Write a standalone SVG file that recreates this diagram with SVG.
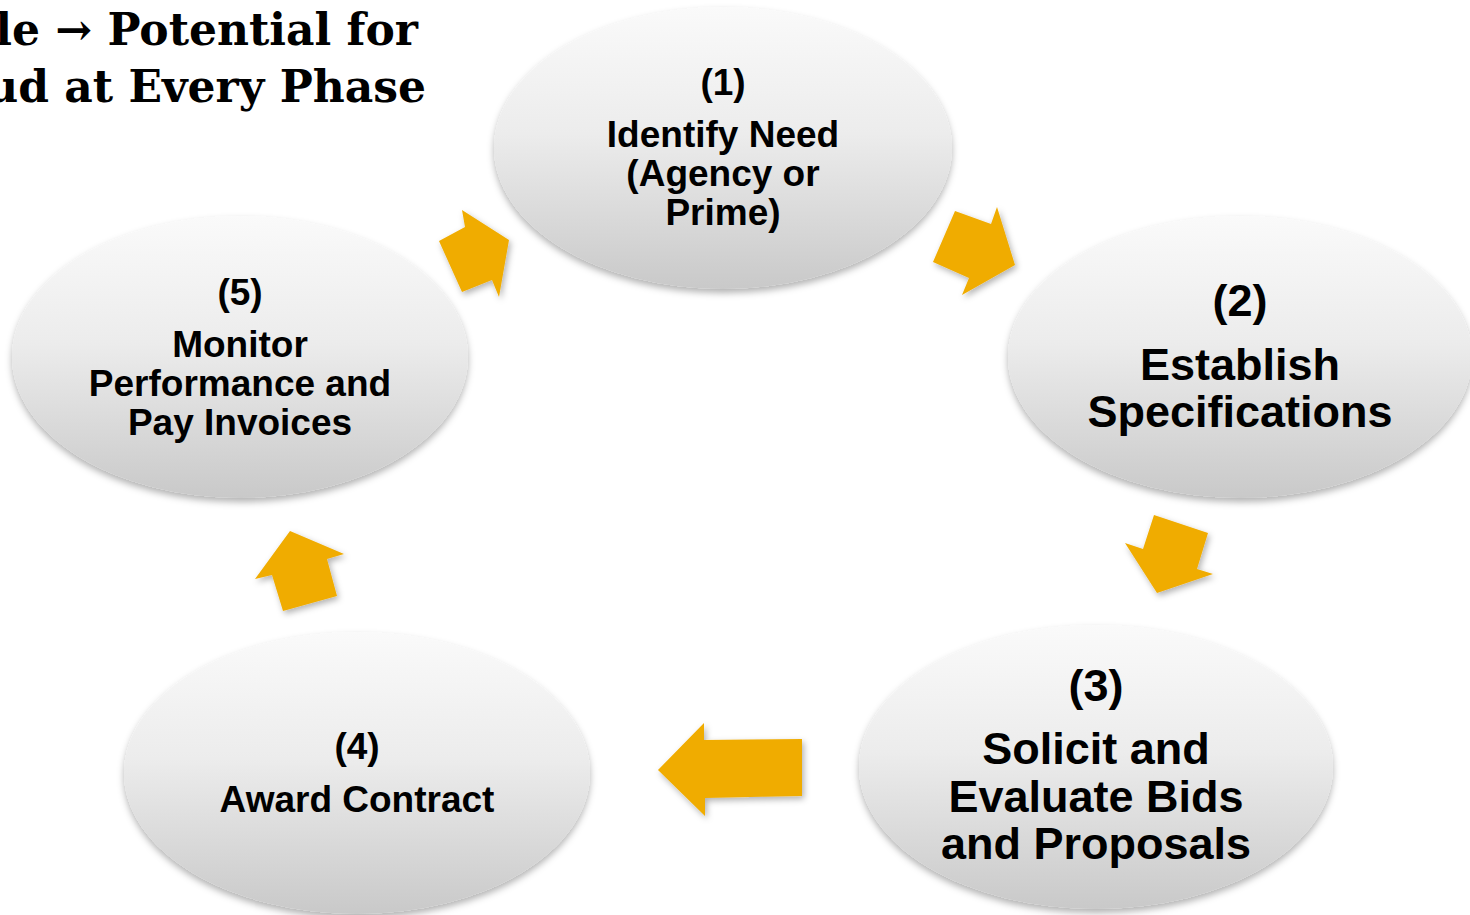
<svg xmlns="http://www.w3.org/2000/svg" width="1470" height="915" viewBox="0 0 1470 915">
  <style>
    .oval { fill: url(#ovalFill); filter: url(#ovalShadow); }
    .lbl { font-family: "Liberation Sans", Arial, sans-serif; font-weight: bold; fill: #000; text-anchor: middle; }
    .s37 { font-size: 37px; }
    .s45 { font-size: 45px; }
    .title { font-family: "DejaVu Serif", Georgia, serif; font-weight: bold; font-size: 44px; fill: #000; text-anchor: end; }
    .flow { fill: #F0AC00; filter: url(#arrowShadow); }
  </style>
  <defs>
    <linearGradient id="ovalFill" x1="0" y1="0" x2="0" y2="1">
      <stop offset="0" stop-color="#fafafa"/>
      <stop offset="0.45" stop-color="#ececec"/>
      <stop offset="1" stop-color="#c9c9c9"/>
    </linearGradient>
    <filter id="ovalShadow" x="-10%" y="-10%" width="120%" height="125%">
      <feDropShadow dx="0" dy="4" stdDeviation="3.5" flood-color="#000" flood-opacity="0.3"/>
    </filter>
    <filter id="arrowShadow" x="-20%" y="-20%" width="150%" height="150%">
      <feDropShadow dx="2" dy="3" stdDeviation="3" flood-color="#000" flood-opacity="0.3"/>
    </filter>
  </defs>

  <rect width="1470" height="915" fill="#ffffff"/>

  <!-- title, running off the left edge -->
  <g id="title">
    <text class="title" x="418" y="45">le → Potential for</text>
    <text class="title" x="426" y="102">ud at Every Phase</text>
  </g>

  <!-- cycle arrows -->
  <g id="connectors">
    <polygon class="flow" points="955,211 991,224 997,207 1015,265 962,295 969,278 933,262"/>
    <polygon class="flow" points="1154,515 1208,533 1197,569 1213,574 1157,593 1125,543 1143,549"/>
    <polygon class="flow" points="802,739 802,796 705,798 705,816 658,770 704,723 704,740"/>
    <polygon class="flow" points="283,611 272,575 255,579 290,531 344,554 327,559 337,596"/>
    <polygon class="flow" points="439,241 465,227 462,210 509,240 499,297 492,280 462,292"/>
  </g>

  <g id="node1">
    <ellipse class="oval" cx="723" cy="148" rx="229" ry="141"/>
    <text class="lbl s37" x="723" y="95">(1)</text>
    <text class="lbl s37" x="723" y="147">Identify Need</text>
    <text class="lbl s37" x="723" y="186">(Agency or</text>
    <text class="lbl s37" x="723" y="225">Prime)</text>
  </g>

  <g id="node2">
    <ellipse class="oval" cx="1240" cy="357" rx="232" ry="141"/>
    <text class="lbl s45" x="1240" y="316">(2)</text>
    <text class="lbl s45" x="1240" y="380">Establish</text>
    <text class="lbl s45" x="1240" y="427">Specifications</text>
  </g>

  <g id="node3">
    <ellipse class="oval" cx="1096" cy="767" rx="237" ry="142"/>
    <text class="lbl s45" x="1096" y="701">(3)</text>
    <text class="lbl s45" x="1096" y="764">Solicit and</text>
    <text class="lbl s45" x="1096" y="812">Evaluate Bids</text>
    <text class="lbl s45" x="1096" y="859">and Proposals</text>
  </g>

  <g id="node4">
    <ellipse class="oval" cx="357" cy="773" rx="233" ry="141"/>
    <text class="lbl s37" x="357" y="759">(4)</text>
    <text class="lbl s37" x="357" y="812">Award Contract</text>
  </g>

  <g id="node5">
    <ellipse class="oval" cx="240" cy="357" rx="228" ry="141"/>
    <text class="lbl s37" x="240" y="305">(5)</text>
    <text class="lbl s37" x="240" y="357">Monitor</text>
    <text class="lbl s37" x="240" y="396">Performance and</text>
    <text class="lbl s37" x="240" y="435">Pay Invoices</text>
  </g>
</svg>
